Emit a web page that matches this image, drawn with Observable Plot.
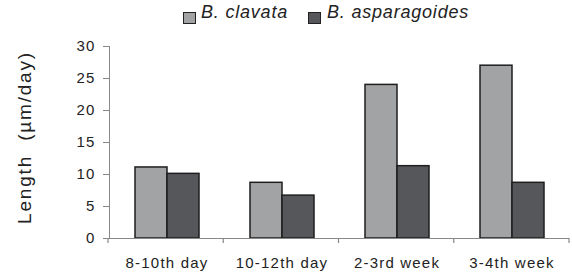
<!DOCTYPE html>
<html>
<head>
<meta charset="utf-8">
<script src="https://cdn.jsdelivr.net/npm/d3@7"></script>
<script src="https://cdn.jsdelivr.net/npm/@observablehq/plot@0.6"></script>
<style>
  html, body { margin: 0; padding: 0; background: #fff; }
  #wrap { width: 572px; height: 276px; position: relative; overflow: hidden; }
  #legend { position: relative; height: 30px; width: 572px; font-family: "Liberation Sans", Arial, sans-serif; font-style: italic; font-size: 18px; letter-spacing: 0.8px; color: #222; }
  #legend .sw { position: absolute; width: 13px; height: 12px; border: 1px solid #222; box-sizing: border-box; }
  #legend .lb { position: absolute; line-height: 18px; white-space: nowrap; }
  #chart svg { display: block; }
  #chart svg text { fill: #222; }
  #chart svg [aria-label="fx-axis tick label"] text,
  #chart svg [aria-label="y-axis tick label"] text { letter-spacing: 1.2px; }
  #chart svg [aria-label="y-axis label"] text { font-size: 19px; letter-spacing: 1.8px; }
</style>
</head>
<body>
<div id="wrap">
  <div id="legend"></div>
  <div id="chart"></div>
</div>
<script>
const categories = ["8-10th day", "10-12th day", "2-3rd week", "3-4th week"];
const seriesNames = ["B. clavata", "B. asparagoides"];
const clavata = [11.1, 8.7, 24.0, 27.0];
const asparagoides = [10.1, 6.7, 11.3, 8.7];
const yTicks = [0, 5, 10, 15, 20, 25, 30];
const seriesColors = ["#a2a3a5", "#56575b"];
const yLabel = "Length  (µm/day)";

const data = categories.flatMap((c, i) => [
  {cat: c, series: seriesNames[0], value: clavata[i]},
  {cat: c, series: seriesNames[1], value: asparagoides[i]}
]);

// legend
const legendLayout = [{sw: 183, tx: 201}, {sw: 308, tx: 327}];
const legend = d3.select("#legend");
seriesNames.forEach((s, i) => {
  legend.append("span").attr("class", "sw")
    .style("left", legendLayout[i].sw + "px").style("top", "12px")
    .style("background", seriesColors[i]);
  legend.append("span").attr("class", "lb")
    .style("left", legendLayout[i].tx + "px").style("top", "3px")
    .text(s);
});

const plot = Plot.plot({
  width: 572,
  height: 246,
  marginTop: 16,
  marginBottom: 38,
  marginLeft: 108,
  marginRight: 3,
  style: {fontFamily: "Liberation Sans, Arial, sans-serif", fontSize: "15px", color: "#888", background: "white", overflow: "visible"},
  fx: {domain: categories, padding: 0, axis: "bottom", tickSize: 0, tickPadding: 19, label: null},
  x: {domain: seriesNames, axis: null, paddingInner: 0, paddingOuter: 0.75},
  y: {domain: [0, 30], ticks: yTicks, tickSize: 6, tickPadding: 8, label: yLabel, labelArrow: "none", labelAnchor: "center", labelOffset: 92, line: true},
  color: {domain: seriesNames, range: seriesColors},
  marks: [
    Plot.barY(data, {fx: "cat", x: "series", y: "value", fill: "series", stroke: "#1e1e1e", strokeWidth: 1.5}),
    Plot.ruleY([0], {stroke: "#888", strokeWidth: 1.2})
  ]
});
document.getElementById("chart").appendChild(plot);

// nudge the y label up along its reading direction
d3.select(plot).selectAll('[aria-label="y-axis label"] text').attr("dx", 5);

// category boundary ticks on x axis, from the library's fx scale
const fxs = plot.scale("fx");
const band = d3.scaleBand(fxs.domain, fxs.range).paddingInner(fxs.paddingInner || 0).paddingOuter(fxs.paddingOuter || 0);
const bounds = fxs.domain.map(d => band(d)).concat([band(fxs.domain[fxs.domain.length - 1]) + band.bandwidth()]);
const y0 = plot.scale("y").apply(0);
d3.select(plot).append("g").attr("stroke", "#888").attr("stroke-width", 1.2)
  .selectAll("line").data(bounds).join("line")
  .attr("x1", d => d).attr("x2", d => d).attr("y1", y0).attr("y2", y0 + 5);
</script>
</body>
</html>
